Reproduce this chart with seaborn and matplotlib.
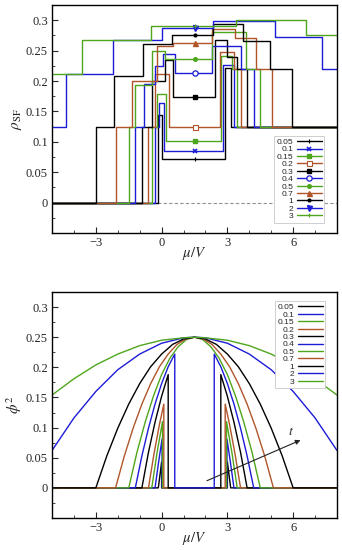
import matplotlib
matplotlib.use("Agg")
import matplotlib.pyplot as plt
from matplotlib.lines import Line2D
from matplotlib.ticker import MultipleLocator, FuncFormatter
import numpy as np
import pandas as pd
import seaborn as sns

# legend labels (hopping t)
t_labels = ["0.05", "0.1", "0.15", "0.2", "0.3", "0.4", "0.5", "0.7", "1", "2", "3"]

# ---- top panel: rho_SF step functions (edges in mu/V, plateau levels)
edges_t005 = [-0.15, 0.03, 2.88, 3.15]
rho_t005 = [0, 0.144, 0.072, 0.222, 0.125]
edges_t01 = [-0.3, -0.12, 0.12, 2.78, 3.3]
rho_t01 = [0, 0.125, 0.164, 0.085, 0.227, 0.125]
edges_t015 = [-0.45, -0.22, 0.2, 2.7, 3.2, 3.45]
rho_t015 = [0, 0.125, 0.178, 0.102, 0.241, 0.219, 0.125]
edges_t02 = [-0.6, -0.3, 0.33, 2.65, 3.3, 3.6]
rho_t02 = [0, 0.125, 0.212, 0.125, 0.247, 0.219, 0.125]
edges_t03 = [-0.9, -0.45, 0.15, 0.52, 2.42, 3.0, 3.45, 3.9]
rho_t03 = [0, 0.125, 0.2, 0.234, 0.174, 0.267, 0.24, 0.219, 0.125]
edges_t04 = [-1.2, -0.8, -0.3, 0.05, 0.6, 2.3, 3.64, 4.2]
rho_t04 = [0, 0.125, 0.195, 0.225, 0.244, 0.213, 0.258, 0.219, 0.125]
edges_t05 = [-1.5, -1.2, -0.46, 0.15, 2.3, 3.87, 4.5]
rho_t05 = [0, 0.125, 0.194, 0.249, 0.237, 0.28, 0.219, 0.125]
edges_t07 = [-2.1, -1.37, -0.2, 0.5, 2.3, 3.33, 4.32, 5.05]
rho_t07 = [0, 0.125, 0.2, 0.258, 0.263, 0.285, 0.271, 0.219, 0.125]
edges_t1 = [-3.0, -2.15, -0.84, 0.49, 2.35, 3.7, 4.93, 5.95]
rho_t1 = [0, 0.125, 0.209, 0.261, 0.276, 0.294, 0.266, 0.219, 0.125]
edges_t2 = [-4.35, -2.2, 0.0, 2.35, 5.16, 7.3]
rho_t2 = [0.125, 0.212, 0.268, 0.287, 0.298, 0.273, 0.219]
edges_t3 = [-3.65, -0.47, 3.4, 6.6]
rho_t3 = [0.212, 0.268, 0.291, 0.301, 0.275]

# ---- bottom panel: phi^2 curves (mu/V, phi^2)
mu_t005 = [-5, -0.15, 0.0, 0.0, 3.0, 3.0, 3.15, 8]
phi_t005 = [0, 0, 0.043, 0, 0, 0.043, 0, 0]
mu_t01 = [-5, -0.3, -0.14, 0.02, 0.02, 2.98, 2.98, 3.14, 3.3, 8]
phi_t01 = [0, 0, 0.042, 0.081, 0, 0, 0.081, 0.042, 0, 0]
mu_t015 = [-5, -0.45, -0.2, 0.04, 0.04, 2.96, 2.96, 3.2, 3.45, 8]
phi_t015 = [0, 0, 0.06, 0.11, 0, 0, 0.11, 0.06, 0, 0]
mu_t02 = [-5, -0.6, -0.35, -0.1, 0.1, 0.1, 2.9, 2.9, 3.1, 3.35, 3.6, 8]
phi_t02 = [0, 0, 0.056, 0.105, 0.139, 0, 0, 0.139, 0.105, 0.056, 0, 0]
mu_t03 = [-5, -0.9, -0.6, -0.3, 0.0, 0.3, 0.3, 2.7, 2.7, 3.0, 3.3, 3.6, 3.9, 8]
phi_t03 = [0, 0, 0.059, 0.109, 0.152, 0.188, 0, 0, 0.188, 0.152, 0.109, 0.059, 0, 0]
mu_t04 = [-5, -1.2, -0.9, -0.6, -0.3, 0.0, 0.3, 0.6, 0.6, 2.4, 2.4, 2.7, 3.0, 3.3, 3.6, 3.9, 4.2, 8]
phi_t04 = [0, 0, 0.053, 0.099, 0.139, 0.173, 0.201, 0.222, 0, 0, 0.222, 0.201, 0.173, 0.139, 0.099, 0.053, 0, 0]
mu_t05 = [-5, -1.5, -1.125, -0.75, -0.375, 0, 0.375, 0.75, 1.125, 1.5,
          1.875, 2.25, 2.625, 3.0, 3.375, 3.75, 4.125, 4.5, 8]
phi_t05 = [0, 0, 0.059, 0.109, 0.152, 0.188, 0.215, 0.234, 0.246, 0.25,
           0.246, 0.234, 0.215, 0.188, 0.152, 0.109, 0.059, 0, 0]
mu_t07 = [-5, -2.1, -1.7, -1.3, -0.9, -0.5, -0.1, 0.3, 0.7, 1.1, 1.5,
          1.9, 2.3, 2.7, 3.1, 3.5, 3.9, 4.3, 4.7, 5.1, 8]
phi_t07 = [0, 0, 0.053, 0.099, 0.139, 0.173, 0.201, 0.222, 0.238, 0.247, 0.25,
           0.247, 0.238, 0.222, 0.201, 0.173, 0.139, 0.099, 0.053, 0, 0]
mu_t1 = [-5, -3, -2.5, -2, -1.5, -1, -0.5, 0, 0.5, 1, 1.5,
         2, 2.5, 3, 3.5, 4, 4.5, 5, 5.5, 6, 8]
phi_t1 = [0, 0, 0.053, 0.099, 0.139, 0.173, 0.201, 0.222, 0.238, 0.247, 0.25,
          0.247, 0.238, 0.222, 0.201, 0.173, 0.139, 0.099, 0.053, 0, 0]
mu_t2 = [-5, -4, -3, -2, -1, 0, 1, 1.5, 2, 3, 4, 5, 6, 7, 8]
phi_t2 = [0.062, 0.116, 0.16, 0.196, 0.222, 0.24, 0.249, 0.25, 0.249, 0.24, 0.222, 0.196, 0.16, 0.116, 0.062]
mu_t3 = [-5, -4, -3, -2, -1, 0, 1, 1.5, 2, 3, 4, 5, 6, 7, 8]
phi_t3 = [0.154, 0.181, 0.204, 0.222, 0.236, 0.245, 0.249, 0.25, 0.249, 0.245, 0.236, 0.222, 0.204, 0.181, 0.154]

top_series = [(edges_t005, rho_t005), (edges_t01, rho_t01), (edges_t015, rho_t015),
              (edges_t02, rho_t02), (edges_t03, rho_t03), (edges_t04, rho_t04),
              (edges_t05, rho_t05), (edges_t07, rho_t07), (edges_t1, rho_t1),
              (edges_t2, rho_t2), (edges_t3, rho_t3)]
bottom_series = [(mu_t005, phi_t005), (mu_t01, phi_t01), (mu_t015, phi_t015),
                 (mu_t02, phi_t02), (mu_t03, phi_t03), (mu_t04, phi_t04),
                 (mu_t05, phi_t05), (mu_t07, phi_t07), (mu_t1, phi_t1),
                 (mu_t2, phi_t2), (mu_t3, phi_t3)]

BLACK, BLUE, GREEN, BROWN = "#000000", "#1c1cd6", "#4fa61c", "#b0552a"
colors = [BLACK, BLUE, GREEN, BROWN] * 2 + [BLACK, BLUE, GREEN]
markers = [dict(marker="+", ms=3.5, mew=0.8),
           dict(marker="x", ms=3, mew=1.2),
           dict(marker="s", ms=2.8),
           dict(marker="s", ms=3.6, mfc="white", mew=0.8),
           dict(marker="s", ms=3.2),
           dict(marker="o", ms=3.8, mfc="white", mew=0.9),
           dict(marker="o", ms=2.6),
           dict(marker="^", ms=3.6),
           dict(marker=".", ms=4),
           dict(marker="v", ms=3.6),
           dict(marker="+", ms=3.5, mew=0.8)]
MU_MARK = 1.5
X_MIN, X_MAX = -5, 8

sns.set_theme(style="ticks")
plt.rcParams["font.family"] = ["Liberation Serif", "DejaVu Serif"]
plt.rcParams["mathtext.fontset"] = "stix"
plt.rcParams["xtick.direction"] = "in"
plt.rcParams["ytick.direction"] = "in"

fig = plt.figure(figsize=(3.42, 5.5), dpi=100)
W, H = 342, 550
ax1 = fig.add_axes([52 / W, 1 - 233 / H, 285 / W, 228 / H])
ax2 = fig.add_axes([52 / W, 1 - 518 / H, 285 / W, 226 / H])

leg_kw = dict(markerfirst=False, fancybox=False, framealpha=1, edgecolor="#c8c8c8",
              prop={"family": "Liberation Sans", "size": 6.0}, labelspacing=-0.05,
              handlelength=3.0, handletextpad=0.4, borderpad=0.3, borderaxespad=0)

# ---- top panel
ax1.axhline(0, color="#909090", lw=0.8, ls=(0, (3, 2)), zorder=1)
for (edges, levels), c, mk in zip(top_series, colors, markers):
    xs = [X_MIN] + list(edges) + [X_MAX]
    ys = list(levels) + [levels[-1]]
    df = pd.DataFrame({"mu": xs, "rho": ys})
    sns.lineplot(data=df, x="mu", y="rho", estimator=None, sort=False,
                 drawstyle="steps-post", color=c, lw=1.0, ax=ax1, legend=False)
    y_mark = levels[int(np.searchsorted(edges, MU_MARK, side="right"))]
    ax1.plot([MU_MARK], [y_mark], color=c, ls="none", zorder=5, **mk)

handles = [Line2D([], [], color=c, lw=1.0, **mk) for c, mk in zip(colors, markers)]
leg1 = ax1.legend(handles, t_labels, loc="lower right", bbox_to_anchor=(0.955, 0.045), **leg_kw)
leg1.get_frame().set_linewidth(0.6)

# ---- bottom panel
for (mu, phi), c in zip(bottom_series, colors):
    df = pd.DataFrame({"mu": mu, "phi2": phi})
    sns.lineplot(data=df, x="mu", y="phi2", estimator=None, sort=False,
                 color=c, lw=1.0, ax=ax2, legend=False)

handles2 = [Line2D([], [], color=c, lw=1.0) for c in colors]
leg2 = ax2.legend(handles2, t_labels, loc="upper right", bbox_to_anchor=(0.958, 0.96), **leg_kw)
leg2.get_frame().set_linewidth(0.6)

ax2.annotate("", xy=(6.45, 0.081), xytext=(1.95, 0.01),
             arrowprops=dict(arrowstyle="-|>", color="#222222", lw=0.8, mutation_scale=7))
ax2.text(5.75, 0.087, r"$t$", fontsize=10)

fmt = FuncFormatter(lambda v, _: "%g" % round(v, 3))
for ax, ylab, axh in [(ax1, r"$\rho_{\mathrm{SF}}$", 228), (ax2, r"$\phi^2$", 226)]:
    ax.set_xlim(X_MIN, X_MAX)
    ax.set_ylim(-0.05, 0.325)
    ax.set_xticks([-3, 0, 3, 6])
    ax.xaxis.set_minor_locator(MultipleLocator(1))
    ax.set_yticks([0, 0.05, 0.1, 0.15, 0.2, 0.25, 0.3])
    ax.yaxis.set_minor_locator(MultipleLocator(0.025))
    ax.yaxis.set_major_formatter(fmt)
    ax.tick_params(which="major", length=4, width=0.8, labelsize=9, pad=3)
    ax.tick_params(which="minor", length=2, width=0.6)
    for s in ax.spines.values():
        s.set_linewidth(1.0)
        s.set_color("black")
    ax.set_xlabel(r"$\mu/V$", fontsize=10.5)
    ax.xaxis.set_label_coords(0.5, -12 / axh)
    ax.set_ylabel(ylab, fontsize=11, labelpad=1)

fig.savefig("out.png", dpi=100)
